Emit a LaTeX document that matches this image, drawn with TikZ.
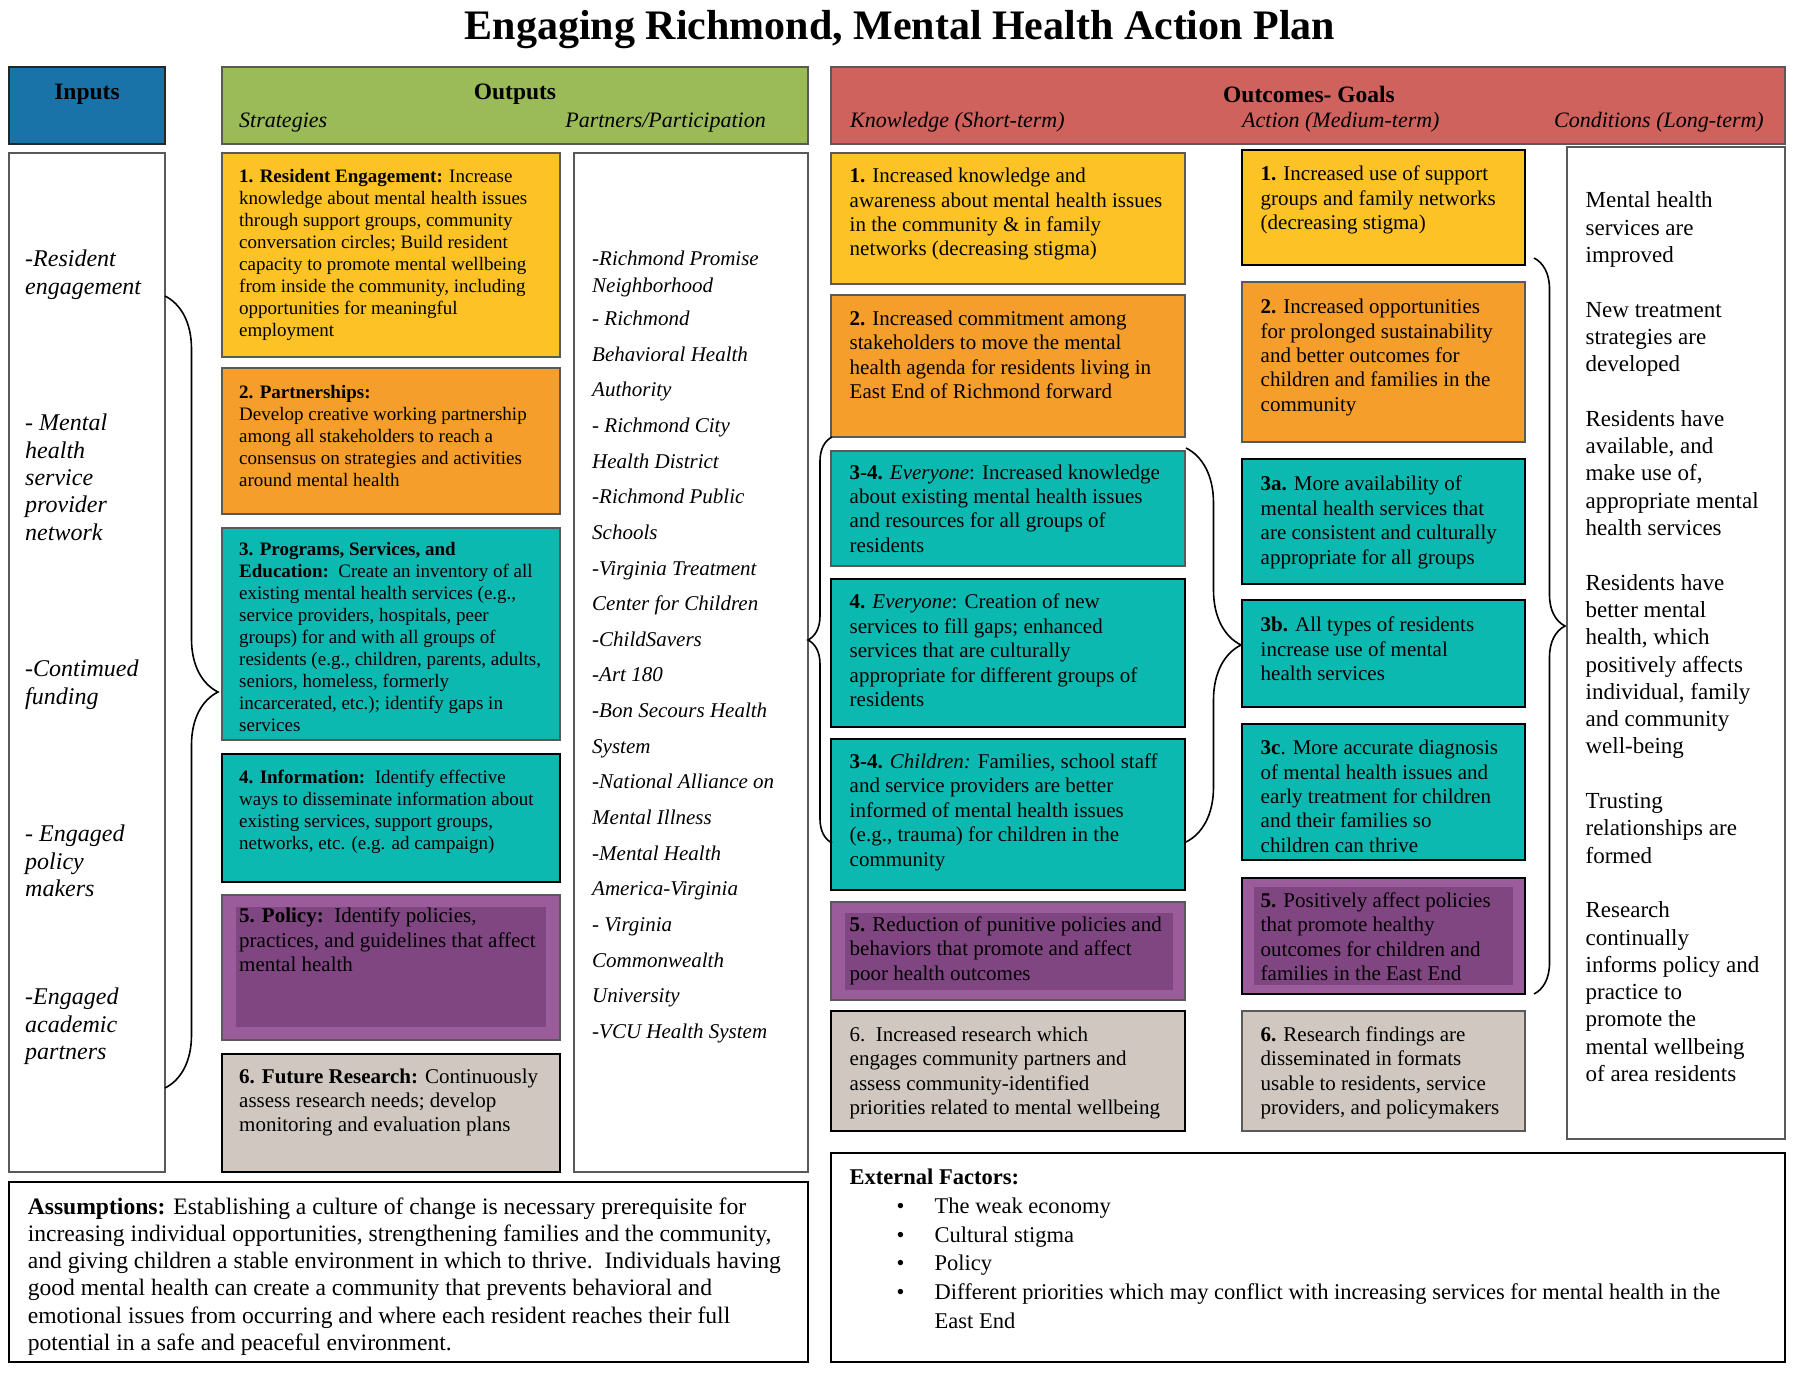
\documentclass[tikz,border=0pt]{standalone}
\usepackage{fontspec}
\setmainfont{Liberation Serif}
\usetikzlibrary{decorations.pathreplacing}
\definecolor{cblue}{RGB}{25,115,168}
\definecolor{cgreen}{RGB}{155,187,89}
\definecolor{cred}{RGB}{207,98,92}
\definecolor{cyel}{RGB}{253,195,38}
\definecolor{corg}{RGB}{246,158,43}
\definecolor{cteal}{RGB}{12,185,177}
\definecolor{cpurA}{RGB}{154,92,155}
\definecolor{cpurB}{RGB}{127,70,129}
\definecolor{cgrey}{RGB}{208,200,192}
\begin{document}
\begin{tikzpicture}[x=1pt,y=-1pt,
 bx/.style={draw=black!65, line width=1.8pt, anchor=north west, inner sep=0pt, outer sep=0pt},
 bxk/.style={bx, draw=black, line width=2.6pt},
 inr/.style={anchor=north west, inner sep=0pt, outer sep=0pt, fill=cpurB},
 tx/.style={anchor=north west, inner sep=0pt, align=left},
 fs/.style={font=\fontsize{19}{22}\selectfont},
 fk/.style={font=\fontsize{21}{24.4}\selectfont},
 hd/.style={inner sep=0pt, font=\fontsize{23.5}{26}\selectfont\bfseries},
 sh/.style={inner sep=0pt, font=\fontsize{22}{26}\selectfont\itshape},
 brc/.style={decorate, decoration={brace, amplitude=#1}, line width=1.6pt},
]
\useasboundingbox (0,0) rectangle (1800,1373);
\fill[white] (0,0) rectangle (1800,1373);

% title
\node[inner sep=0pt, font=\fontsize{42}{48}\selectfont\bfseries] (title) at (900,29.5) {Engaging Richmond, Mental Health Action Plan};

% headers
\node[bx, draw=black!85, fill=cblue, minimum width=156pt, minimum height=77pt] (inH) at (9,67) {};
\node[bx, fill=cgreen, minimum width=586pt, minimum height=77pt] (outH) at (222,67) {};
\node[bx, fill=cred, minimum width=954pt, minimum height=77pt] (ocH) at (831,67) {};
\node[hd] (inHt) at (87,94.5) {Inputs};
\node[hd] (outHt) at (515,94.5) {Outputs};
\node[hd] (ocHt) at (1309,94.5) {Outcomes- Goals};
\node[sh, anchor=west] (sh1) at (239,122.5) {Strategies};
\node[sh, anchor=east] (sh2) at (766,122.5) {Partners/Participation};
\node[sh, anchor=west] (sh3) at (850,122.5) {Knowledge (Short-term)};
\node[sh, anchor=west] (sh4) at (1242,122.5) {Action (Medium-term)};
\node[sh, anchor=east] (sh5) at (1764,122.5) {Conditions (Long-term)};

% inputs column
\node[bx, minimum width=156pt, minimum height=1019pt] (inB) at (9,153) {};
\begin{scope}[every node/.style={tx, font=\fontsize{24}{27.3}\selectfont\itshape}]
\node (in1) at (25,250) {-Resident\\engagement};
\node (in2) at (25,414) {- Mental\\health\\service\\provider\\network};
\node (in3) at (25,660) {-Contimued\\funding};
\node (in4) at (25,825) {- Engaged\\policy\\makers};
\node (in5) at (25,988) {-Engaged\\academic\\partners};
\end{scope}

% strategies
\node[bx, fill=cyel, minimum width=338pt, minimum height=204pt] (s1) at (222,153) {};
\node[bx, fill=corg, minimum width=338pt, minimum height=146pt] (s2) at (222,368) {};
\node[bx, fill=cteal, minimum width=338pt, minimum height=212pt] (s3) at (222,528) {};
\node[bxk, fill=cteal, minimum width=338pt, minimum height=128pt] (s4) at (222,754) {};
\node[bx, fill=cpurA, minimum width=338pt, minimum height=145pt] (s5) at (222,895) {};
\node[inr, minimum width=310pt, minimum height=120pt] (s5i) at (236,907) {};
\node[bxk, fill=cgrey, minimum width=338pt, minimum height=118pt] (s6) at (222,1054) {};
\begin{scope}[every node/.style={tx, fs}]
\node (s1t) at (239,169) {\textbf{1. Resident Engagement:} Increase\\knowledge about mental health issues\\through support groups, community\\conversation circles; Build resident\\capacity to promote mental wellbeing\\from inside the community, including\\opportunities for meaningful\\employment};
\node (s2t) at (239,385) {\textbf{2. Partnerships:}\\Develop creative working partnership\\among all stakeholders to reach a\\consensus on strategies and activities\\around mental health};
\node (s3t) at (239,542) {\textbf{3. Programs, Services, and}\\\textbf{Education:}\ \ Create an inventory of all\\existing mental health services (e.g.,\\service providers, hospitals, peer\\groups) for and with all groups of\\residents (e.g., children, parents, adults,\\seniors, homeless, formerly\\incarcerated, etc.); identify gaps in\\services};
\node (s4t) at (239,770) {\textbf{4. Information:}\ \ Identify effective\\ways to disseminate information about\\existing services, support groups,\\networks, etc. (e.g. ad campaign)};
\node[font=\fontsize{21}{24.3}\selectfont] (s5t) at (239,908) {\textbf{5. Policy:}\ \ Identify policies,\\practices, and guidelines that affect\\mental health};
\node[font=\fontsize{21}{24}\selectfont] (s6t) at (239,1069) {\textbf{6. Future Research:} Continuously\\assess research needs; develop\\monitoring and evaluation plans};
\end{scope}

% partners
\node[bx, minimum width=234pt, minimum height=1019pt] (pB) at (574,153) {};
\node[tx, font=\fontsize{21}{35.65}\selectfont\itshape] (pt) at (592,251) {-Richmond Promise\\[-9.25pt]Neighborhood\\[-2.35pt]- Richmond\\Behavioral Health\\Authority\\- Richmond City\\Health District\\-Richmond Public\\Schools\\-Virginia Treatment\\Center for Children\\-ChildSavers\\-Art 180\\-Bon Secours Health\\System\\-National Alliance on\\Mental Illness\\-Mental Health\\America-Virginia\\- Virginia\\Commonwealth\\University\\-VCU Health System};

% knowledge column
\node[bx, fill=cyel, minimum width=354pt, minimum height=131pt] (k1) at (831,153) {};
\node[bx, fill=corg, minimum width=354pt, minimum height=142pt] (k2) at (831,295) {};
\node[bx, fill=cteal, minimum width=354pt, minimum height=115pt] (k3) at (831,451) {};
\node[bxk, fill=cteal, minimum width=354pt, minimum height=148pt] (k4) at (831,579) {};
\node[bxk, fill=cteal, minimum width=354pt, minimum height=151pt] (k5) at (831,739) {};
\node[bx, fill=cpurA, minimum width=354pt, minimum height=98pt] (k6) at (831,902) {};
\node[inr, minimum width=328pt, minimum height=77pt] (k6i) at (845,913) {};
\node[bxk, fill=cgrey, minimum width=354pt, minimum height=120pt] (k7) at (831,1011) {};
\begin{scope}[every node/.style={tx, fk}]
\node (k1t) at (849.5,168) {\textbf{1.} Increased knowledge and\\awareness about mental health issues\\in the community \& in family\\networks (decreasing stigma)};
\node (k2t) at (849.5,310.6) {\textbf{2.} Increased commitment among\\stakeholders to move the mental\\health agenda for residents living in\\East End of Richmond forward};
\node (k3t) at (849.5,464.4) {\textbf{3-4.} \textit{Everyone}: Increased knowledge\\about existing mental health issues\\and resources for all groups of\\residents};
\node (k4t) at (849.5,594) {\textbf{4.} \textit{Everyone}: Creation of new\\services to fill gaps; enhanced\\services that are culturally\\appropriate for different groups of\\residents};
\node (k5t) at (849.5,753.6) {\textbf{3-4.} \textit{Children:} Families, school staff\\and service providers are better\\informed of mental health issues\\(e.g., trauma) for children in the\\community};
\node (k6t) at (849.5,916.6) {\textbf{5.} Reduction of punitive policies and\\behaviors that promote and affect\\poor health outcomes};
\node (k7t) at (849.5,1026.6) {6.\ \ Increased research which\\engages community partners and\\assess community-identified\\priorities related to mental wellbeing};
\end{scope}

% action column
\node[bxk, fill=cyel, minimum width=283pt, minimum height=115pt] (a1) at (1242,150) {};
\node[bx, fill=corg, minimum width=283pt, minimum height=160pt] (a2) at (1242,282) {};
\node[bxk, fill=cteal, minimum width=283pt, minimum height=125pt] (a3) at (1242,459) {};
\node[bxk, fill=cteal, minimum width=283pt, minimum height=107pt] (a4) at (1242,600) {};
\node[bxk, fill=cteal, minimum width=283pt, minimum height=136pt] (a5) at (1242,724) {};
\node[bxk, fill=cpurA, minimum width=283pt, minimum height=116pt] (a6) at (1242,878) {};
\node[inr, minimum width=259pt, minimum height=98pt] (a6i) at (1254,887) {};
\node[bx, fill=cgrey, minimum width=283pt, minimum height=120pt] (a7) at (1242,1011) {};
\begin{scope}[every node/.style={tx, fk}]
\node (a1t) at (1260.5,166) {\textbf{1.} Increased use of support\\groups and family networks\\(decreasing stigma)};
\node (a2t) at (1260.5,299) {\textbf{2.} Increased opportunities\\for prolonged sustainability\\and better outcomes for\\children and families in the\\community};
\node (a3t) at (1260.5,476) {\textbf{3a.} More availability of\\mental health services that\\are consistent and culturally\\appropriate for all groups};
\node (a4t) at (1260.5,617) {\textbf{3b.} All types of residents\\increase use of mental\\health services};
\node (a5t) at (1260.5,740) {\textbf{3c}. More accurate diagnosis\\of mental health issues and\\early treatment for children\\and their families so\\children can thrive};
\node (a6t) at (1260.5,892.6) {\textbf{5.} Positively affect policies\\that promote healthy\\outcomes for children and\\families in the East End};
\node (a7t) at (1260.5,1026.6) {\textbf{6.} Research findings are\\disseminated in formats\\usable to residents, service\\providers, and policymakers};
\end{scope}

% conditions
\node[bx, minimum width=218pt, minimum height=992pt] (cB) at (1567,147) {};
\node[tx, font=\fontsize{23}{27.3}\selectfont] (ct) at (1585.4,191.8) {Mental health\\services are\\improved\\[27.3pt]New treatment\\strategies are\\developed\\[27.3pt]Residents have\\available, and\\make use of,\\appropriate mental\\health services\\[27.3pt]Residents have\\better mental\\health, which\\positively affects\\individual, family\\and community\\well-being\\[27.3pt]Trusting\\relationships are\\formed\\[27.3pt]Research\\continually\\informs policy and\\practice to\\promote the\\mental wellbeing\\of area residents};

% assumptions and external factors
\node[bx, draw=black, line width=2.4pt, minimum width=799pt, minimum height=180pt] (asB) at (9,1182) {};
\node[tx, font=\fontsize{23.6}{27.2}\selectfont] (ast) at (27.6,1197.4) {\textbf{Assumptions:} Establishing a culture of change is necessary prerequisite for\\increasing individual opportunities, strengthening families and the community,\\and giving children a stable environment in which to thrive.\ \ Individuals having\\good mental health can create a community that prevents behavioral and\\emotional issues from occurring and where each resident reaches their full\\potential in a safe and peaceful environment.};
\node[bx, draw=black, line width=2.4pt, minimum width=954pt, minimum height=209pt] (exB) at (831,1153) {};
\node[tx, font=\fontsize{22.5}{28.7}\selectfont] (ext) at (849.5,1169) {\textbf{External Factors:}\\\hspace*{47pt}\makebox[38pt][l]{\textbullet}The weak economy\\\hspace*{47pt}\makebox[38pt][l]{\textbullet}Cultural stigma\\\hspace*{47pt}\makebox[38pt][l]{\textbullet}Policy\\\hspace*{47pt}\makebox[38pt][l]{\textbullet}Different priorities which may conflict with increasing services for mental health in the\\\hspace*{85pt}East End};

% braces
\coordinate (b1a) at (165,296);
\coordinate (b1b) at (165,1088);
\draw[brc=53pt] (b1a) -- (b1b);
\coordinate (b2a) at (832,843);
\coordinate (b2b) at (832,437);
\draw[brc=24pt] (b2a) -- (b2b);
\coordinate (b3a) at (1186,448);
\coordinate (b3b) at (1186,842);
\draw[brc=55pt] (b3a) -- (b3b);
\coordinate (b4a) at (1534,258);
\coordinate (b4b) at (1534,994);
\draw[brc=31pt] (b4a) -- (b4b);
\end{tikzpicture}
\end{document}
